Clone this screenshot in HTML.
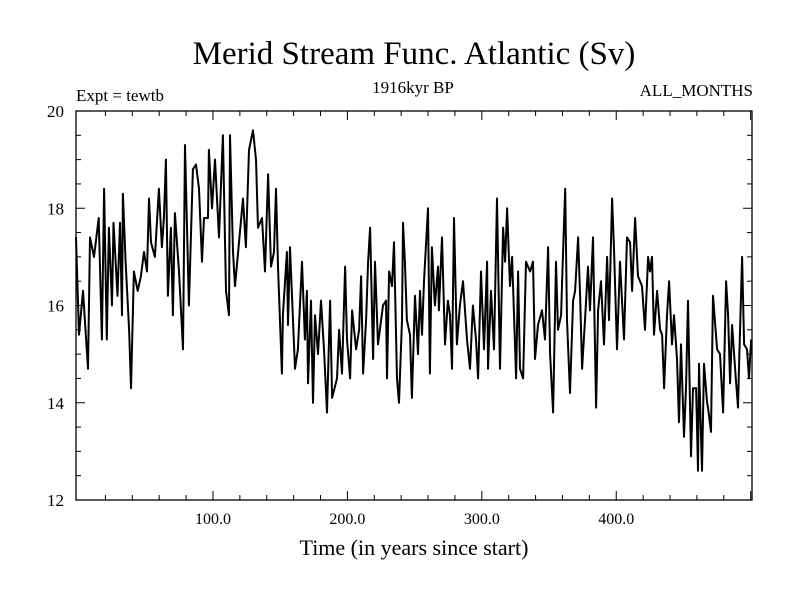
<!DOCTYPE html>
<html><head><meta charset="utf-8"><style>
html,body{margin:0;padding:0;background:#fff}
svg text{font-family:"Liberation Serif",serif;fill:#000}
</style></head><body>
<svg width="800" height="600" viewBox="0 0 800 600">
<text x="414" y="64" font-size="33" text-anchor="middle">Merid Stream Func. Atlantic (Sv)</text>
<text x="76" y="101" font-size="17">Expt = tewtb</text>
<text x="413" y="93" font-size="17" text-anchor="middle">1916kyr BP</text>
<text x="753" y="96" font-size="17" text-anchor="end">ALL_MONTHS</text>
<text x="414" y="555" font-size="22" text-anchor="middle">Time (in years since start)</text>
<g id="axes"></g>
<path id="line" fill="none" stroke="#000" stroke-width="2" stroke-linejoin="round"></path>
<rect x="76" y="111" width="676" height="389" fill="none" stroke="#000" stroke-width="1.3"></rect>
</svg>
<script>
const years=[-1.9,0.3,3.3,7,8.5,11.5,15,17.4,19,21,22.6,24.9,26,29,30.8,32.3,33,35,37.6,39,41.2,44,46.4,48.7,50.9,52.4,53.9,56.8,59.8,62,63.5,65,66.5,68.7,70.2,71.7,74.7,77.7,79.2,82.1,85.1,87.4,89.6,91.8,93.3,96.3,97,99.3,101.5,104.5,107.4,109.7,111.9,112.7,114.9,116.4,
120,122.3,124.5,126.8,129.8,132,133.5,136.5,138.7,141,143.2,145.4,146.9,148.4,151.3,152,155,155.8,157.3,159.5,161,163.2,166.2,168.4,169.9,170.7,172.9,174.4,175.9,178.1,180.4,182.6,184.8,187.1,188.6,192.3,193.8,196,198.3,199.7,202,203.5,206.5,208.7,210.2,211.7,213.9,215.4,216.9,219.1,220.5,222.8,226.5,228.7,229.5,231,233.2,234.7,236.9,238.4,240.6,241.4,
242.8,244.3,246.6,248,250.3,252.5,254,255.5,257,260,261.4,262.9,265.1,267.4,268.1,270.4,272.6,274.8,276.3,277.8,279.3,281.5,283.7,286,289,291.2,293.4,295.7,297.2,299.4,301.6,303.9,304.6,306.8,309.1,311.3,313.5,315.8,317.3,318.8,321,322.5,325.5,327,328.4,330.7,332.9,335.9,338.1,339.6,341.8,344.8,347,349.3,350.8,353,355.2,356.7,359,359.7,362,363.4,365.6,367.9,
369.4,371.6,373.1,374.6,376.8,379,380.5,382.7,385,386.5,388.7,390.9,393.2,394.6,396.9,398.4,400.6,402.8,405.8,408,410.3,411.8,414,416.2,419.2,421.4,423.7,425.1,426.6,428.1,430.4,432.6,434.1,435.6,437.8,439.3,441.5,443,445.2,446.7,448.2,450.4,451.9,453.4,455.6,457.1,459.4,460.8,461.6,463.8,465.3,467.6,468.3,470.5,472,475,477.2,479.5,481.7,483.2,484.7,486.2,488.4,490.6,491.4,493.6,495.1,497.3,498.8,500.3];
const values=[17.4,15.4,16.3,14.7,17.4,17.0,17.8,15.3,18.4,15.3,17.6,16.0,17.7,16.2,17.7,15.8,18.3,16.9,15.5,14.3,16.7,16.3,16.6,17.1,16.7,18.2,17.3,17.0,18.4,17.2,17.8,19.0,16.2,17.6,15.8,17.9,16.7,15.1,19.3,16.0,18.8,18.9,18.4,16.9,17.8,17.8,19.2,18.0,19.0,17.4,19.5,16.3,15.8,19.5,17.1,16.4,
17.5,18.2,17.2,19.2,19.6,19.0,17.6,17.8,16.7,18.7,16.8,17.1,18.4,16.8,14.6,15.8,17.1,15.6,17.2,15.7,14.7,15.1,16.9,15.3,16.3,14.4,16.1,14.0,15.8,15.0,16.1,15.1,13.8,16.1,14.1,14.5,15.5,14.6,16.8,15.3,14.5,15.9,15.1,15.5,16.6,14.6,15.7,16.9,17.6,14.9,16.9,15.2,16.0,16.1,14.5,16.7,16.4,17.3,14.5,14.0,15.7,17.7,
16.9,15.7,15.4,14.1,16.2,15.0,16.3,15.4,16.5,18.0,14.6,17.2,16.0,16.8,15.9,17.4,15.2,16.1,15.8,14.7,17.8,15.2,16.0,16.5,15.3,14.7,16.0,15.3,14.5,16.7,15.1,16.9,14.7,16.3,15.1,18.2,14.7,17.6,16.9,18.0,16.4,17.0,14.5,16.7,14.7,14.5,16.9,16.7,16.9,14.9,15.6,15.9,15.3,17.2,15.0,13.8,16.9,15.5,15.8,16.5,18.4,15.7,14.2,16.1,
16.3,17.4,16.2,14.7,15.7,16.8,15.9,17.4,13.9,15.9,16.5,15.2,17.0,15.7,18.2,17.1,15.1,16.9,15.3,17.4,17.3,16.3,17.8,16.6,16.4,15.5,17.0,16.7,17.0,15.4,16.3,15.5,15.4,14.3,15.8,16.5,15.2,15.8,14.9,13.6,15.2,13.3,14.3,16.1,12.9,14.3,14.3,12.6,14.8,12.6,14.8,14.0,13.9,13.4,16.2,15.1,15.0,13.8,16.5,15.8,14.4,15.6,14.7,13.9,14.8,17.0,15.2,15.1,14.5,15.3];
const yTicks=[12,14,16,18,20];
const xTicks=[100,200,300,400];
const xLabels=["100.0","200.0","300.0","400.0"];
const X0=76,X1=752,Y0=500,Y1=111,TMIN=-1.9,TMAX=501,VMIN=12,VMAX=20;
function xs(t){return X0+(t-TMIN)/(TMAX-TMIN)*(X1-X0);}
function ys(v){return Y0-(v-VMIN)/(VMAX-VMIN)*(Y0-Y1);}
const NS="http://www.w3.org/2000/svg";
const ax=document.getElementById('axes');
function ln(x1,y1,x2,y2){const l=document.createElementNS(NS,'line');l.setAttribute('x1',x1);l.setAttribute('y1',y1);l.setAttribute('x2',x2);l.setAttribute('y2',y2);l.setAttribute('stroke','#000');l.setAttribute('stroke-width','1');


ax.appendChild(l);}
for(let v=12;v<=20;v+=0.5){const y=ys(v),L=(v%2===0)?9:5;ln(X0,y,X0+L,y);ln(X1,y,X1-L,y);}
yTicks.forEach(v=>{const t=document.createElementNS(NS,'text');t.setAttribute('x',64);t.setAttribute('y',ys(v)+6);t.setAttribute('font-size','17');t.setAttribute('text-anchor','end');t.textContent=v;


ax.appendChild(t);});
for(let t=20;t<=500;t+=20){const x=xs(t),L=(t%100===0)?9:5;ln(x,Y0,x,Y0-L);ln(x,Y1,x,Y1+L);}
xTicks.forEach((v,i)=>{const t=document.createElementNS(NS,'text');t.setAttribute('x',xs(v));t.setAttribute('y',524);t.setAttribute('font-size','16');t.setAttribute('text-anchor','middle');t.textContent=xLabels[i];


ax.appendChild(t);});
document.getElementById('line').setAttribute('d',years.map((t,i)=>(i?'L':'M')+xs(t).toFixed(1)+' '+ys(values[i]).toFixed(1)).join(''));
</script>
</body></html>
